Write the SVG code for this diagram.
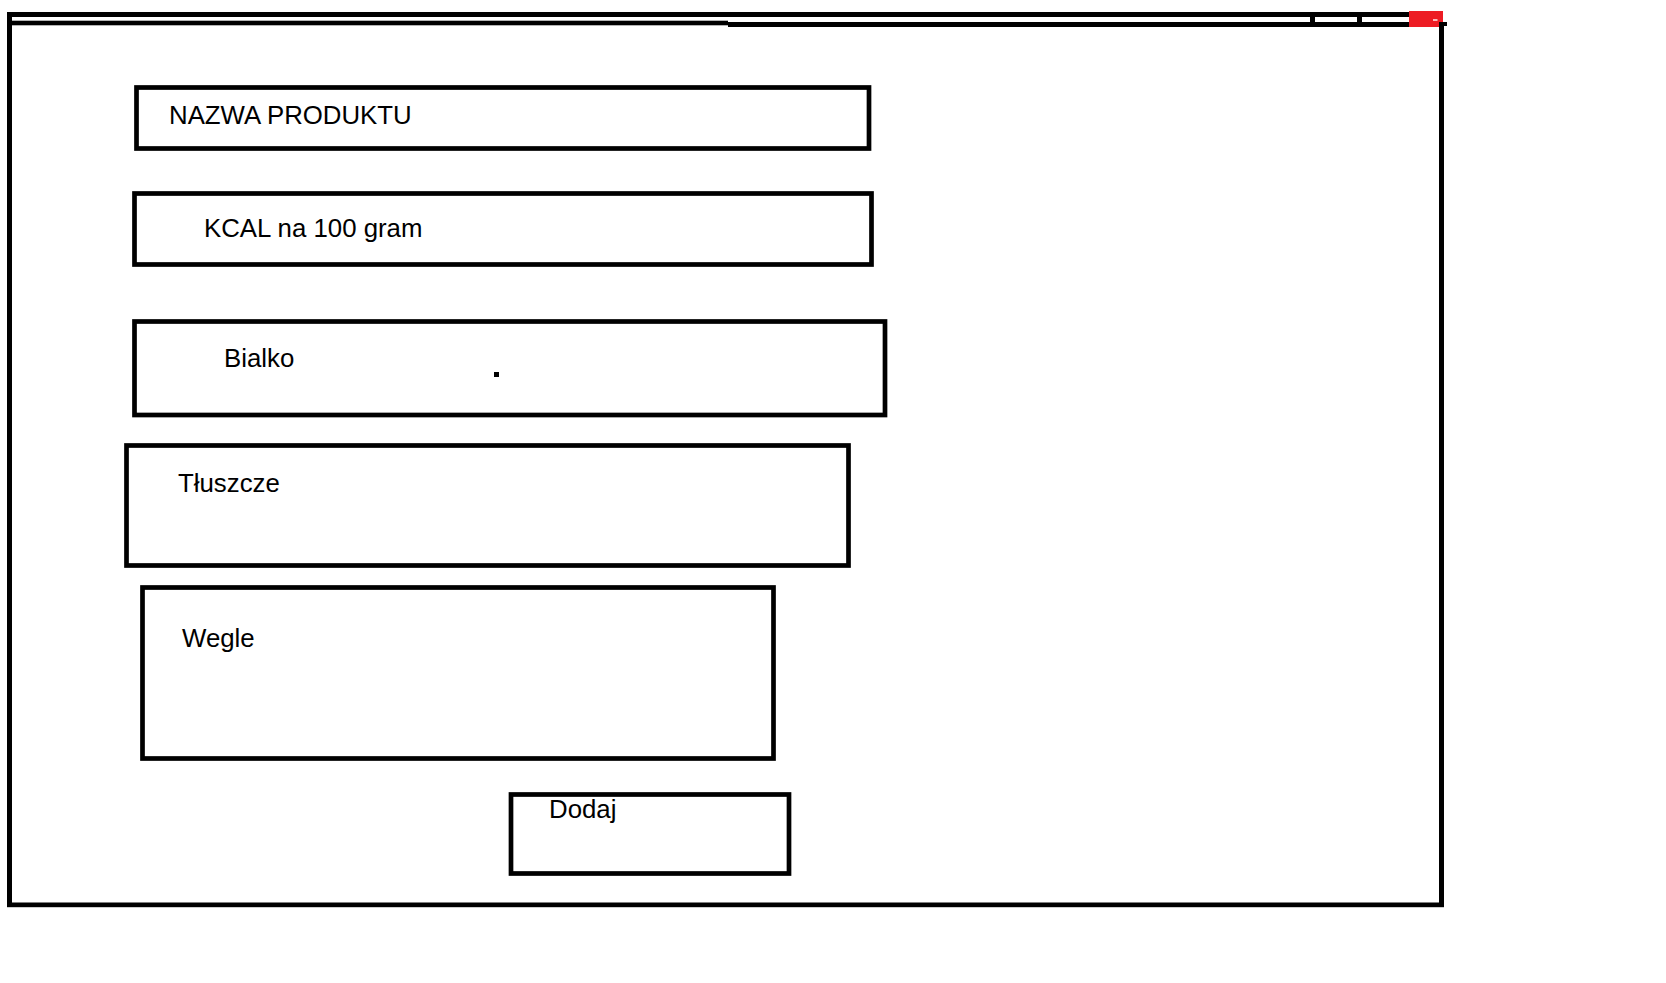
<svg xmlns="http://www.w3.org/2000/svg" width="1666" height="983" viewBox="0 0 1666 983">
<style>
.box{fill:none;stroke:#000;stroke-width:4.7}
.bar{fill:#000}
.lbl{font-family:"Liberation Sans",Arial,sans-serif;font-size:25.8px;fill:#000}
</style>
<rect x="0" y="0" width="1666" height="983" fill="#fff"/>
<g id="window">
<rect class="bar" x="7" y="12" width="1402" height="5"/>
<rect class="bar" x="12" y="20.7" width="716" height="4.6"/>
<rect class="bar" x="728" y="22" width="681" height="5"/>
<rect class="bar" x="1310" y="17" width="5" height="5"/>
<rect class="bar" x="1357" y="17" width="5" height="5"/>
<rect x="1409" y="11" width="34" height="16" fill="#ED1C24"/>
<rect x="1433" y="19.3" width="4.5" height="1.4" fill="#fff"/>
<rect class="bar" x="1443" y="22" width="4" height="4"/>
<rect class="bar" x="7" y="12" width="5" height="895"/>
<rect class="bar" x="1439" y="22" width="5" height="885"/>
<rect class="bar" x="7" y="902.5" width="1437" height="4.7"/>
</g>
<g id="connectors"></g>
<g id="nazwa">
<rect class="box" x="136.5" y="87.5" width="732.5" height="61"/>
<text class="lbl" x="169" y="124">NAZWA PRODUKTU</text>
</g>
<g id="kcal">
<rect class="box" x="134.5" y="193.5" width="737" height="71"/>
<text class="lbl" x="204" y="237">KCAL na 100 gram</text>
</g>
<g id="bialko">
<rect class="box" x="134.5" y="321.5" width="750.5" height="93.5"/>
<text class="lbl" x="224" y="367">Bialko</text>
<rect class="bar" x="494" y="372" width="5" height="5"/>
</g>
<g id="tluszcze">
<rect class="box" x="126.5" y="445.5" width="722" height="120"/>
<text class="lbl" x="178" y="492">Tłuszcze</text>
</g>
<g id="wegle">
<rect class="box" x="142.5" y="587.5" width="631" height="171"/>
<text class="lbl" x="182" y="647">Wegle</text>
</g>
<g id="dodaj">
<rect class="box" x="511" y="794.5" width="278" height="79"/>
<text class="lbl" x="549" y="818">Dodaj</text>
</g>
</svg>
